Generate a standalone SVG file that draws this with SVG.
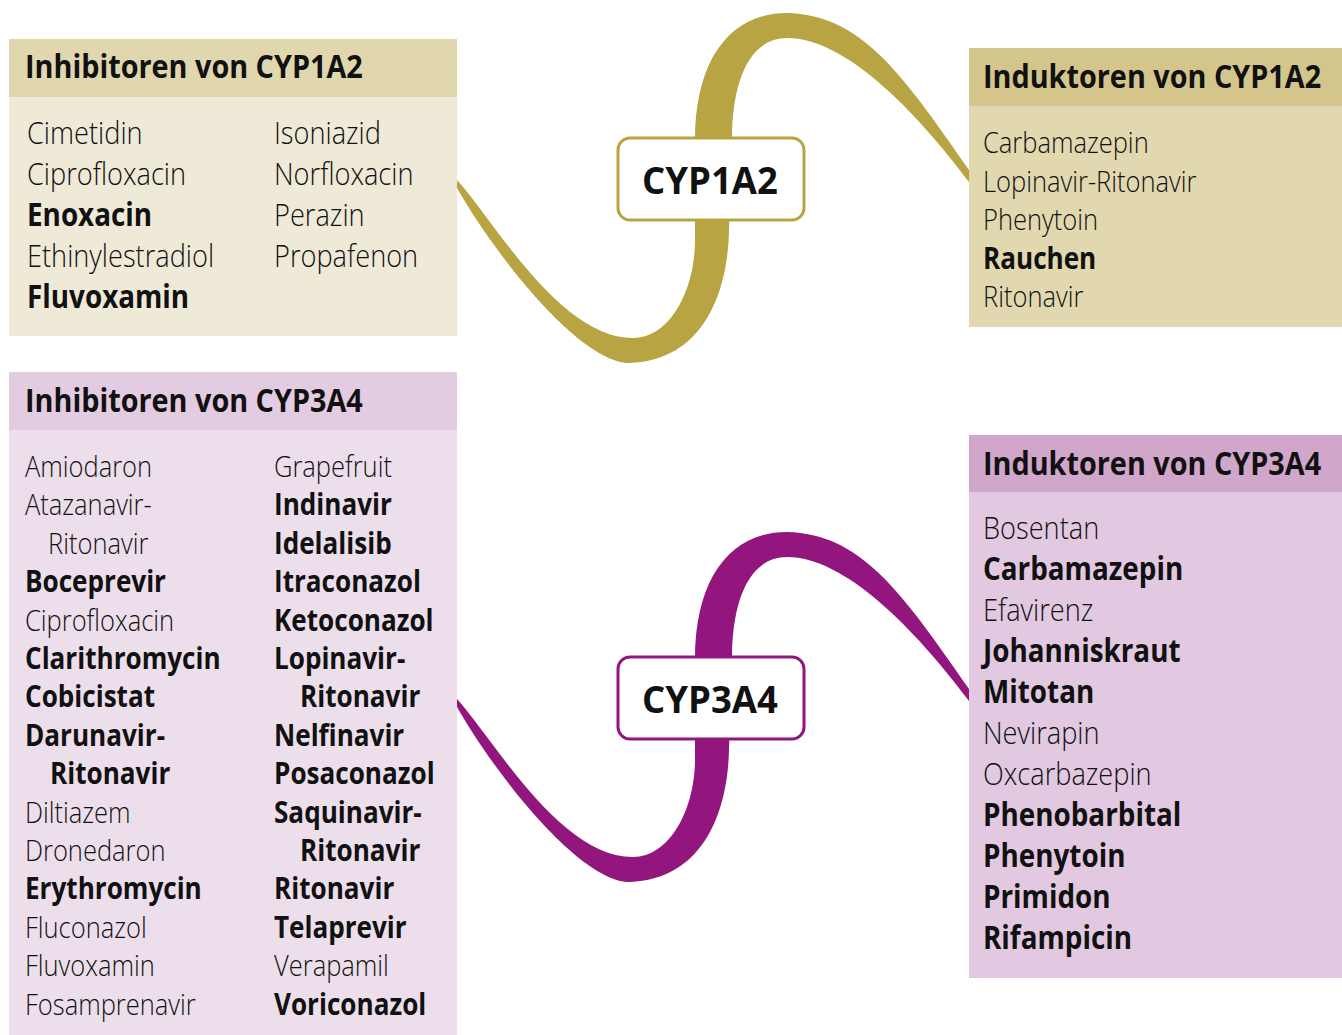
<svg xmlns="http://www.w3.org/2000/svg" xmlns:xlink="http://www.w3.org/1999/xlink" width="1342" height="1035" viewBox="0 0 1342 1035">
<defs>
<style>
text{font-family:"Open Sans","Noto Sans","DejaVu Sans",sans-serif;fill:#111}
.l{font-weight:300}
.b{font-weight:700}
.s32 text{font-size:32px}
.s30 text{font-size:30px}
g text.h{font-weight:700;font-size:32px}
text.n{font-weight:700;font-size:38px;text-anchor:middle}
.nbox{fill:#fff;stroke-width:3}
</style>
<path id="rib" d="M457,180 C495,222 560,338 633,338 C670,338 695,290 695,240 L695,140 C695,60 730,13 787,13 C860,15 900,70 969,170 L969,182 C915,110 845,38 787,38 C750,38 732,80 732,140 L729,230 C728,290 705,360 630,363 C580,363 495,255 457,188 Z"/>
</defs>
<rect width="1342" height="1035" fill="#fff"/>

<g id="connectors">
<use xlink:href="#rib" href="#rib" fill="#b9a443"/>
<use xlink:href="#rib" href="#rib" fill="#93167f" transform="translate(0,519)"/>
</g>

<g id="box-inh-1a2" class="s32">
<rect x="9" y="39" width="448" height="297" fill="#efe9d8"/>
<rect x="9" y="39" width="448" height="58" fill="#e0d7ae"/>
<text class="h" transform="translate(25,78) scale(.9,1)">Inhibitoren von CYP1A2</text>
<text class="l" transform="translate(27,144) scale(.85,1)">Cimetidin</text>
<text class="l" transform="translate(27,185) scale(.85,1)">Ciprofloxacin</text>
<text class="b" transform="translate(27,226) scale(.87,1)">Enoxacin</text>
<text class="l" transform="translate(27,267) scale(.85,1)">Ethinylestradiol</text>
<text class="b" transform="translate(27,308) scale(.87,1)">Fluvoxamin</text>
<text class="l" transform="translate(274,144) scale(.85,1)">Isoniazid</text>
<text class="l" transform="translate(274,185) scale(.85,1)">Norfloxacin</text>
<text class="l" transform="translate(274,226) scale(.85,1)">Perazin</text>
<text class="l" transform="translate(274,267) scale(.85,1)">Propafenon</text>
</g>

<g id="box-ind-1a2" class="s30">
<rect x="969" y="48" width="373" height="279" fill="#e1d8b0"/>
<rect x="969" y="48" width="373" height="58" fill="#d4c58c"/>
<text class="h" transform="translate(983,88) scale(.9,1)">Induktoren von CYP1A2</text>
<text class="l" transform="translate(983,153) scale(.85,1)">Carbamazepin</text>
<text class="l" transform="translate(983,191.5) scale(.85,1)">Lopinavir-Ritonavir</text>
<text class="l" transform="translate(983,230) scale(.85,1)">Phenytoin</text>
<text class="b" transform="translate(983,268.5) scale(.87,1)">Rauchen</text>
<text class="l" transform="translate(983,307) scale(.85,1)">Ritonavir</text>
</g>

<g id="box-inh-3a4" class="s30">
<rect x="9" y="372" width="448" height="663" fill="#ecdeeb"/>
<rect x="9" y="372" width="448" height="58" fill="#e3cbe2"/>
<text class="h" transform="translate(25,412) scale(.9,1)">Inhibitoren von CYP3A4</text>
<text class="l" transform="translate(25,477) scale(.85,1)">Amiodaron</text>
<text class="l" transform="translate(25,515.4) scale(.85,1)">Atazanavir-</text>
<text class="l" transform="translate(48,553.8) scale(.85,1)">Ritonavir</text>
<text class="b" transform="translate(25,592.2) scale(.87,1)">Boceprevir</text>
<text class="l" transform="translate(25,630.6) scale(.85,1)">Ciprofloxacin</text>
<text class="b" transform="translate(25,669) scale(.87,1)">Clarithromycin</text>
<text class="b" transform="translate(25,707.4) scale(.87,1)">Cobicistat</text>
<text class="b" transform="translate(25,745.8) scale(.87,1)">Darunavir-</text>
<text class="b" transform="translate(50,784.2) scale(.87,1)">Ritonavir</text>
<text class="l" transform="translate(25,822.6) scale(.85,1)">Diltiazem</text>
<text class="l" transform="translate(25,861) scale(.85,1)">Dronedaron</text>
<text class="b" transform="translate(25,899.4) scale(.87,1)">Erythromycin</text>
<text class="l" transform="translate(25,937.8) scale(.85,1)">Fluconazol</text>
<text class="l" transform="translate(25,976.2) scale(.85,1)">Fluvoxamin</text>
<text class="l" transform="translate(25,1014.6) scale(.85,1)">Fosamprenavir</text>
<text class="l" transform="translate(274,477) scale(.85,1)">Grapefruit</text>
<text class="b" transform="translate(274,515.4) scale(.87,1)">Indinavir</text>
<text class="b" transform="translate(274,553.8) scale(.87,1)">Idelalisib</text>
<text class="b" transform="translate(274,592.2) scale(.87,1)">Itraconazol</text>
<text class="b" transform="translate(274,630.6) scale(.87,1)">Ketoconazol</text>
<text class="b" transform="translate(274,669) scale(.87,1)">Lopinavir-</text>
<text class="b" transform="translate(300,707.4) scale(.87,1)">Ritonavir</text>
<text class="b" transform="translate(274,745.8) scale(.87,1)">Nelfinavir</text>
<text class="b" transform="translate(274,784.2) scale(.87,1)">Posaconazol</text>
<text class="b" transform="translate(274,822.6) scale(.87,1)">Saquinavir-</text>
<text class="b" transform="translate(300,861) scale(.87,1)">Ritonavir</text>
<text class="b" transform="translate(274,899.4) scale(.87,1)">Ritonavir</text>
<text class="b" transform="translate(274,937.8) scale(.87,1)">Telaprevir</text>
<text class="l" transform="translate(274,976.2) scale(.85,1)">Verapamil</text>
<text class="b" transform="translate(274,1014.6) scale(.87,1)">Voriconazol</text>
</g>

<g id="box-ind-3a4" class="s32">
<rect x="969" y="435" width="373" height="543" fill="#e2c9e1"/>
<rect x="969" y="435" width="373" height="57" fill="#d0a6ca"/>
<text class="h" transform="translate(983,475) scale(.9,1)">Induktoren von CYP3A4</text>
<text class="l" transform="translate(983,539) scale(.85,1)">Bosentan</text>
<text class="b" transform="translate(983,580) scale(.87,1)">Carbamazepin</text>
<text class="l" transform="translate(983,621) scale(.85,1)">Efavirenz</text>
<text class="b" transform="translate(983,662) scale(.87,1)">Johanniskraut</text>
<text class="b" transform="translate(983,703) scale(.87,1)">Mitotan</text>
<text class="l" transform="translate(983,744) scale(.85,1)">Nevirapin</text>
<text class="l" transform="translate(983,785) scale(.85,1)">Oxcarbazepin</text>
<text class="b" transform="translate(983,826) scale(.87,1)">Phenobarbital</text>
<text class="b" transform="translate(983,867) scale(.87,1)">Phenytoin</text>
<text class="b" transform="translate(983,908) scale(.87,1)">Primidon</text>
<text class="b" transform="translate(983,949) scale(.87,1)">Rifampicin</text>
</g>

<g id="node-cyp1a2">
<rect class="nbox" x="618" y="138" width="186" height="82" rx="12" stroke="#b9a443"/>
<text class="n" transform="translate(710,194) scale(.96,1)">CYP1A2</text>
</g>

<g id="node-cyp3a4">
<rect class="nbox" x="618" y="657" width="186" height="82" rx="12" stroke="#93167f"/>
<text class="n" transform="translate(710,713) scale(.96,1)">CYP3A4</text>
</g>
</svg>
